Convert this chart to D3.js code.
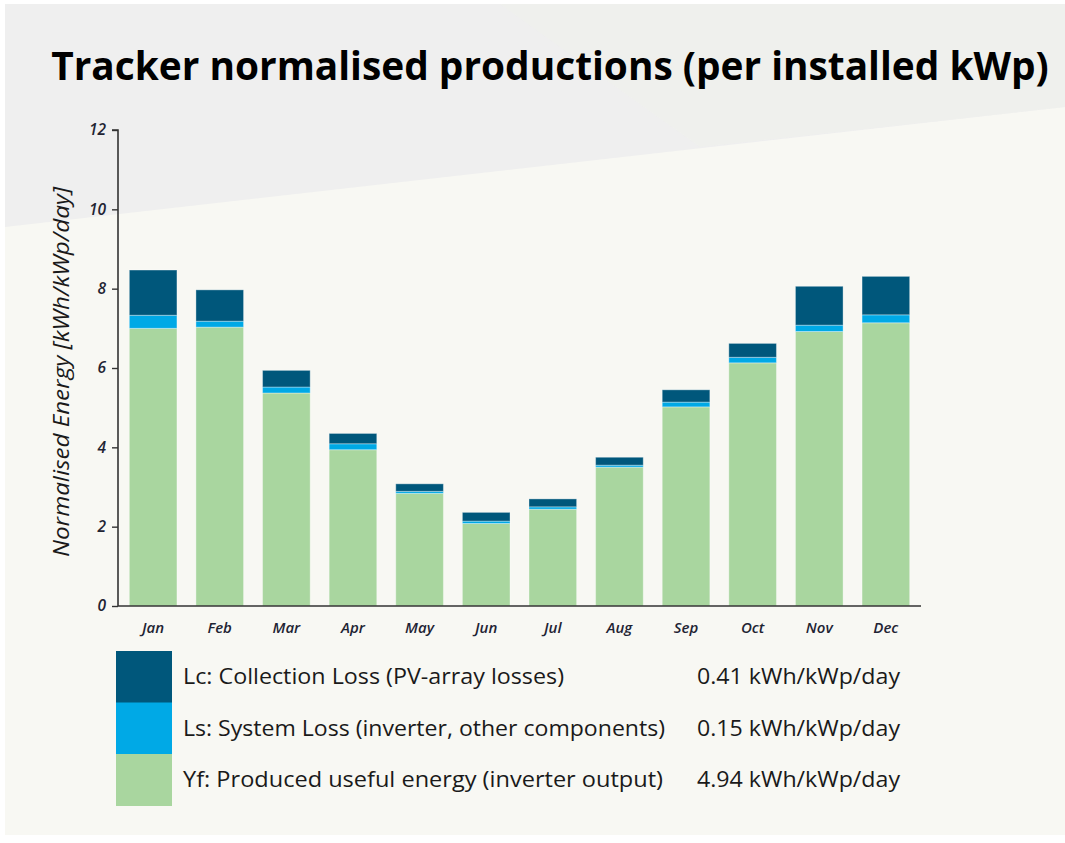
<!DOCTYPE html>
<html>
<head>
<meta charset="utf-8">
<script src="https://cdn.jsdelivr.net/npm/d3@7"></script>
<style>
  html, body { margin: 0; padding: 0; background: #ffffff; }
  svg { display: block; }
</style>
</head>
<body>
<svg id="chart" width="1065" height="843"></svg>
<script>
// ---- data ----
const months = ["Jan","Feb","Mar","Apr","May","Jun","Jul","Aug","Sep","Oct","Nov","Dec"];
const yfValues = [7.00, 7.03, 5.37, 3.94, 2.84, 2.08, 2.44, 3.50, 5.02, 6.13, 6.92, 7.14];
const lsValues = [0.33, 0.15, 0.15, 0.15, 0.05, 0.06, 0.06, 0.05, 0.12, 0.14, 0.16, 0.20];
const lcValues = [1.14, 0.79, 0.42, 0.26, 0.19, 0.22, 0.20, 0.20, 0.31, 0.35, 0.98, 0.97];
const yTicks = [0, 2, 4, 6, 8, 10, 12];
const seriesKeys = ["Yf", "Ls", "Lc"];
const legendKeys = ["Lc", "Ls", "Yf"];
const legendLabels = [
  "Lc: Collection Loss (PV-array losses)",
  "Ls: System Loss (inverter, other components)",
  "Yf: Produced useful energy (inverter output)"
];
const legendValues = ["0.41 kWh/kWp/day", "0.15 kWh/kWp/day", "4.94 kWh/kWp/day"];
const titleText = "Tracker normalised productions (per installed kWp)";
const yAxisTitle = "Normalised Energy [kWh/kWp/day]";

const colors = { Lc: "#00577b", Ls: "#00a9e6", Yf: "#a9d69f" };

const rows = months.map((m, i) => ({ month: m, Yf: yfValues[i], Ls: lsValues[i], Lc: lcValues[i] }));

const svg = d3.select("#chart");
const W = 1065, H = 843;

// fit a text element horizontally to a target width by scaling around its anchor
function fitWidth(sel, cx, cy, target) {
  const w = sel.node().getComputedTextLength();
  const s = target / w;
  sel.attr("x", 0).attr("y", 0)
     .attr("transform", `translate(${cx},${cy}) scale(${s},1)`);
}

// ---- background ----
svg.append("rect").attr("x", 5).attr("y", 4).attr("width", W - 5).attr("height", 831).attr("fill", "#f8f8f3");
svg.append("path")
  .attr("d", `M5,4 L${W},4 L${W},107 L5,227 Z`)
  .attr("fill", "#efefef");
svg.append("path")
  .attr("d", `M500,4 L${W},4 L${W},107 L700,147 Z`)
  .attr("fill", "#eff1ed").attr("opacity", 0.7);

// ---- title ----
const title = svg.append("text")
  .attr("text-anchor", "middle")
  .attr("font-family", "'Open Sans', sans-serif")
  .attr("font-weight", 700)
  .attr("font-size", 40)
  .attr("fill", "#000")
  .text(titleText);
fitWidth(title, 550, 80, 998);

// ---- scales ----
const x0 = 118, x1 = 921, y0 = 606, y1 = 130;
const x = d3.scaleBand().domain(months).range([x0, x1]).paddingInner(0.285).paddingOuter(0.17);
const y = d3.scaleLinear().domain([0, 12]).range([y0, y1]);

// ---- bars ----
const stacked = d3.stack().keys(seriesKeys)(rows);
svg.append("g").selectAll("g")
  .data(stacked).join("g")
  .attr("fill", d => colors[d.key])
  .selectAll("rect")
  .data(d => d).join("rect")
  .attr("x", d => x(d.data.month))
  .attr("width", x.bandwidth())
  .attr("y", d => y(d[1]))
  .attr("height", d => y(d[0]) - y(d[1]))
  .attr("stroke", "rgba(255,255,255,0.35)")
  .attr("stroke-width", 1);

// ---- y axis ----
const yAxis = d3.axisLeft(y).tickValues(yTicks).tickSize(6).tickPadding(6).tickFormat(d3.format("d"));
const gy = svg.append("g").attr("transform", `translate(${x0},0)`).call(yAxis);
gy.select(".domain").attr("stroke", "#333").attr("stroke-width", 1.6).attr("d", `M-6,${y1}H0V${y0}`);
gy.selectAll(".tick line").attr("stroke", "#333").attr("stroke-width", 1.4);
gy.selectAll(".tick text")
  .attr("font-family", "'Open Sans', sans-serif")
  .attr("font-style", "italic")
  .attr("font-weight", 600)
  .attr("font-size", 15.5)
  .attr("fill", "#1f2433");

// ---- x axis ----
const xAxis = d3.axisBottom(x).tickSize(0).tickPadding(16);
const gx = svg.append("g").attr("transform", `translate(0,${y0})`).call(xAxis);
gx.select(".domain").attr("stroke", "#333").attr("stroke-width", 1.6).attr("d", `M${x0},0H${x1}`);
gx.selectAll(".tick text")
  .attr("font-family", "'Open Sans', sans-serif")
  .attr("font-style", "italic")
  .attr("font-weight", 600)
  .attr("font-size", 15)
  .attr("fill", "#1f2433");

// ---- y axis title ----
svg.append("text")
  .attr("transform", "translate(69,372) rotate(-90)")
  .attr("text-anchor", "middle")
  .attr("font-family", "'Open Sans', sans-serif")
  .attr("font-style", "italic")
  .attr("font-size", 21)
  .attr("fill", "#1a1a1a")
  .attr("textLength", 370)
  .attr("lengthAdjust", "spacingAndGlyphs")
  .text(yAxisTitle);

// ---- legend ----
const legendTop = 651, rowH = 51.5;
const lg = svg.append("g");
legendKeys.forEach((k, i) => {
  const ty = legendTop + i * rowH;
  lg.append("rect")
    .attr("x", 116).attr("y", ty)
    .attr("width", 56).attr("height", rowH + 0.5)
    .attr("fill", colors[k]);
  lg.append("text")
    .attr("x", 183).attr("y", ty + rowH / 2 + 7.5)
    .attr("font-family", "'Open Sans', sans-serif")
    .attr("font-size", 21)
    .attr("fill", "#1a1a1a")
    .attr("textLength", [381, 482, 480][i])
    .attr("lengthAdjust", "spacingAndGlyphs")
    .text(legendLabels[i]);
  lg.append("text")
    .attr("x", 697).attr("y", ty + rowH / 2 + 7.5)
    .attr("font-family", "'Open Sans', sans-serif")
    .attr("font-size", 21)
    .attr("fill", "#1a1a1a")
    .attr("textLength", 203)
    .attr("lengthAdjust", "spacingAndGlyphs")
    .text(legendValues[i]);
});
</script>
</body>
</html>
